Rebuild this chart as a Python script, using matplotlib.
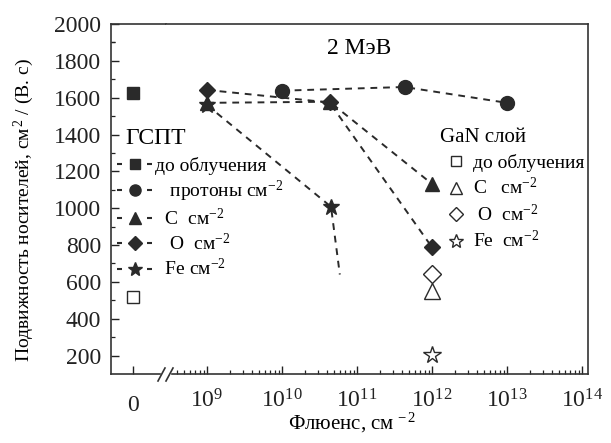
import numpy as np
import matplotlib
matplotlib.use("Agg")
import matplotlib.pyplot as plt
from matplotlib.lines import Line2D

plt.rcParams['font.family'] = ['Liberation Serif', 'DejaVu Serif']
plt.rcParams['mathtext.fontset'] = 'custom'
plt.rcParams['mathtext.rm'] = 'Liberation Serif'
plt.rcParams['mathtext.it'] = 'Liberation Serif:italic'
plt.rcParams['mathtext.bf'] = 'Liberation Serif:bold'

# ---------------- data ----------------
zero_fluence = [0]
gspt_before = [1625]
gan_before = [520]

proton_fluence = [1e10, 4.3e11, 1e13]
proton_mu = [1638, 1658, 1572]

c_fluence = [1e9, 4.3e10, 1e12]
c_mu = [1572, 1578, 1132]

o_fluence = [1e9, 4.3e10, 1e12]
o_mu = [1642, 1574, 788]

fe_fluence = [1e9, 4.5e10, 5.9e10]
fe_mu = [1560, 1008, 640]

gan_fluence = [1e12]
gan_c = [548]
gan_o = [642]
gan_fe = [205]

y_ticks = [200, 400, 600, 800, 1000, 1200, 1400, 1600, 1800, 2000]
x_decades = [9, 10, 11, 12, 13, 14]

gspt_labels = ['до облучения', '   протоны см$^{-2}$', '  C  см$^{-2}$',
               '   O  см$^{-2}$', '  Fe см$^{-2}$']
gan_labels = ['до облучения', 'C   см$^{-2}$', ' O  см$^{-2}$', 'Fe  см$^{-2}$']

# ---------------- figure ----------------
W, H = 611, 443
fig = plt.figure(figsize=(W / 100, H / 100), dpi=100)
fig.patch.set_facecolor('white')

def px_rect(x0, x1, ytop, ybot):
    return [x0 / W, 1 - ybot / H, (x1 - x0) / W, (ybot - ytop) / H]

ax0 = fig.add_axes(px_rect(111, 166, 24, 374))
ax1 = fig.add_axes(px_rect(166, 588, 24, 374), sharey=ax0)

dark = '#2a2a2a'
ms = 10
lw = 1.4
dash = (0, (3.5, 3.0))

# left part (zero fluence)
ax0.plot(zero_fluence, gspt_before, marker='s', ms=ms - 1, color=dark, linestyle='none')
ax0.plot(zero_fluence, gan_before, marker='s', ms=ms - 1, mfc='white',
         mec=dark, mew=1.0, linestyle='none')

# right part (log)
ax1.plot(proton_fluence, proton_mu, marker='o', ms=ms, color=dark, linestyle=dash, lw=lw)
ax1.plot(c_fluence, c_mu, marker='^', ms=ms, color=dark, linestyle=dash, lw=lw)
ax1.plot(o_fluence, o_mu, marker='D', ms=ms - 1.5, color=dark, linestyle=dash, lw=lw)
ax1.plot(fe_fluence, fe_mu, marker='*', ms=ms + 2, color=dark, linestyle=dash, lw=lw,
         markevery=[0, 1])

ax1.plot(gan_fluence, gan_c, marker='^', ms=ms + 2, mfc='white', mec=dark,
         mew=1.0, linestyle='none')
ax1.plot(gan_fluence, gan_o, marker='D', ms=ms - 0.5, mfc='white', mec=dark,
         mew=1.0, linestyle='none')
ax1.plot(gan_fluence, gan_fe, marker='*', ms=ms + 3, mfc='white', mec=dark,
         mew=1.0, linestyle='none')

# axis limits / scales
ax0.set_xlim(-1, 1.5)
ax0.set_ylim(100, 2000)
ax1.set_xscale('log')
ax1.set_xlim(10 ** 8.453, 10 ** 14.08)

# spines
for ax in (ax0, ax1):
    for s in ax.spines.values():
        s.set_linewidth(1.2)
        s.set_color('#333333')
ax0.spines['right'].set_visible(False)
ax1.spines['left'].set_visible(False)
ax0.spines['bottom'].set_bounds(-1, 1.227)
ax1.spines['bottom'].set_bounds(10 ** 8.533, 10 ** 14.08)

# ticks
ax0.set_xticks([0])
ax0.set_xticklabels(['0'])
ax0.set_yticks(y_ticks)
ax0.set_yticklabels([str(v) for v in y_ticks])
ax0.set_yticks([v - 100 for v in y_ticks[1:]] + [1900], minor=True)
ax0.tick_params(axis='both', which='major', direction='in', length=6, width=1.0,
                labelsize=17, colors='#222222')
ax0.tick_params(axis='y', which='minor', direction='in', length=3, width=0.9,
                colors='#222222')
ax0.tick_params(axis='x', which='major', pad=15)
ax0.tick_params(axis='y', which='major', pad=7)

ax1.set_xticks([10.0 ** d for d in x_decades])
ax1.set_xticklabels(['10$^{%d}$' % d for d in x_decades])
minor = [s * 10.0 ** d for d in range(8, 14) for s in range(2, 10) if s * 10.0 ** d >= 4e8]
ax1.set_xticks(minor, minor=True)
ax1.xaxis.set_minor_formatter(plt.NullFormatter())
ax1.tick_params(axis='x', which='major', direction='in', length=6, width=1.0,
                labelsize=17, pad=11, colors='#222222')
ax1.tick_params(axis='x', which='minor', direction='in', length=3, width=0.9,
                colors='#222222')
ax1.tick_params(axis='y', which='both', left=False, right=False, labelleft=False)

# break marks
for xa, xb in [(158, 165), (166, 173)]:
    fig.add_artist(Line2D([xa / W, xb / W], [1 - 381 / H, 1 - 368 / H],
                          color='#333333', lw=1.2))

# labels
ax0.set_ylabel('Подвижность носителей, см$^{\\,2}$ / (В. с)', fontsize=14)
ax0.yaxis.set_label_coords(-1.36, 0.469)
fig.text(352 / W, 1 - 423 / H, 'Флюенс, см$^{\\,-2}$', fontsize=15, ha='center', va='center')
fig.text(359 / W, 1 - 48 / H, '2 МэВ', fontsize=17, ha='center', va='center')
fig.text(125 / W, 1 - 138 / H, 'ГСПТ', fontsize=17, ha='left', va='center')
fig.text(440 / W, 1 - 138 / H, 'GaN слой', fontsize=15, ha='left', va='center')

# legend proxies
hlw = 1.5
hdash = (0, (2.4, 12.0))
gspt_handles = [
    Line2D([], [], color=dark, lw=hlw, linestyle=hdash, marker='s', ms=7.2),
    Line2D([], [], color=dark, lw=hlw, linestyle=hdash, marker='o', ms=8),
    Line2D([], [], color=dark, lw=hlw, linestyle=hdash, marker='^', ms=8),
    Line2D([], [], color=dark, lw=hlw, linestyle=hdash, marker='D', ms=7),
    Line2D([], [], color=dark, lw=hlw, linestyle=hdash, marker='*', ms=10),
]
gan_handles = [
    Line2D([], [], color=dark, linestyle='none', marker='s', ms=6.5, mfc='white', mew=1.0),
    Line2D([], [], color=dark, linestyle='none', marker='^', ms=8.5, mfc='white', mew=1.0),
    Line2D([], [], color=dark, linestyle='none', marker='D', ms=7, mfc='white', mew=1.0),
    Line2D([], [], color=dark, linestyle='none', marker='*', ms=10, mfc='white', mew=1.0),
]

leg1 = fig.legend(handles=gspt_handles, labels=gspt_labels, loc='upper left',
                  bbox_to_anchor=(117 / W, 1 - 157 / H), frameon=False,
                  fontsize=14, handlelength=1.8, handletextpad=0.15,
                  labelspacing=0.2, borderpad=0, borderaxespad=0, numpoints=1)
leg2 = fig.legend(handles=gan_handles, labels=gan_labels, loc='upper left',
                  bbox_to_anchor=(447 / W, 1 - 154 / H), frameon=False,
                  fontsize=14, handlelength=0.9, handletextpad=0.45,
                  labelspacing=0.27, borderpad=0, borderaxespad=0, numpoints=1)

fig.savefig('out.png', dpi=100, facecolor='white')
